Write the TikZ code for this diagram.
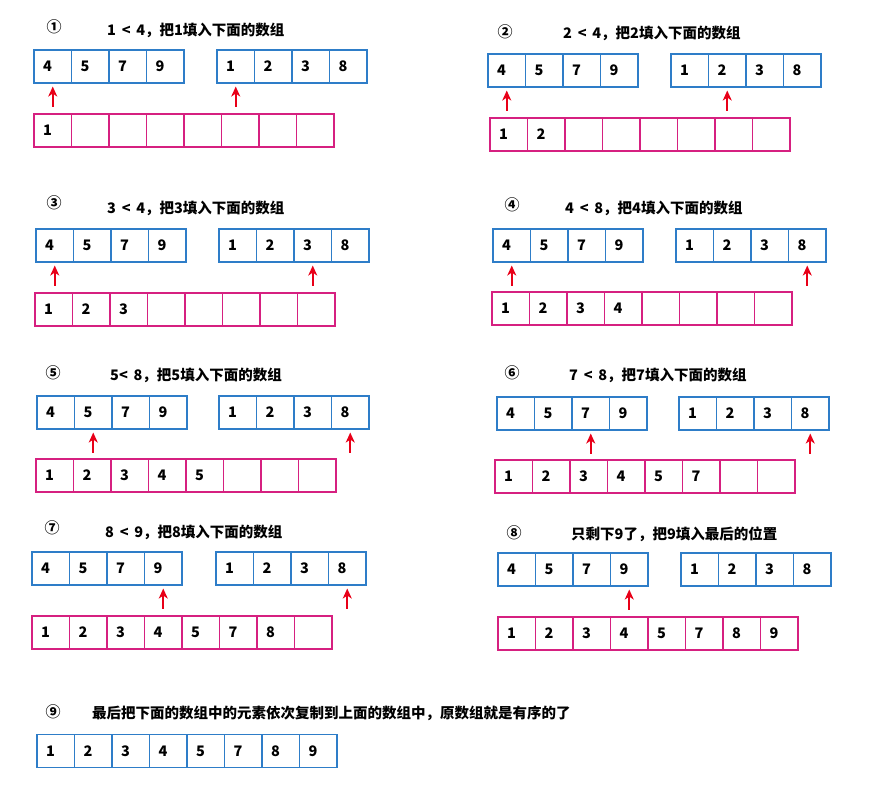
\documentclass[tikz,border=0pt]{standalone}
\usepackage{fontspec}
\usetikzlibrary{arrows.meta}
\newfontfamily\cjk{Noto Sans CJK SC}
\definecolor{arrblue}{RGB}{46,125,200}
\definecolor{arrpink}{RGB}{214,32,128}
\definecolor{ptrred}{RGB}{232,0,24}
\tikzset{
    cell/.style={rectangle,draw,line width=1.1pt,minimum height=33pt,text width=19.5pt,inner xsep=9pt,inner ysep=0pt,align=left,font=\cjk\bfseries\fontsize{14.5}{16}\selectfont},
    topcell/.style={cell,draw=arrblue},
    botcell/.style={cell,draw=arrpink},
    pointer/.style={-{Stealth[length=10pt,width=9pt,inset=3pt]},draw=ptrred,line width=1.8pt,shorten >=3pt},
    heading/.style={anchor=west,inner sep=0pt,font=\cjk\bfseries\fontsize{14.5}{16}\selectfont},
    stepno/.style={inner sep=0pt,font=\cjk\bfseries\fontsize{15}{16}\selectfont}
}

\begin{document}
\begin{tikzpicture}[x=1pt,y=-1pt]
            \useasboundingbox (0,0) rectangle (885,799);

            \foreach \p/\c/\cx/\cy/\tx/\ty/\title/\lx/\ly/\rx/\ry/\bx/\by/\n/\la/\ra in {
                1/①/54/27/107/30/{1 \,<\, 4，把1填入下面的数组}/34/50/217/50/34/114/1/1/1,
                2/②/505/32/563/33/{2 \,<\, 4，把2填入下面的数组}/488/54/671/54/490/118/2/1/2,
                3/③/54/203/107/208/{3 \,<\, 4，把3填入下面的数组}/36/229/219/229/35/293/3/1/3,
                4/④/512/205/565/208/{4 \,<\, 8，把4填入下面的数组}/493/229/676/229/492/292/4/1/4,
                5/⑤/53/373/110/375/{5< \,8，把5填入下面的数组}/37/396/219/396/36/459/5/2/4,
                6/⑥/512/373/569/375/{7 \,<\, 8，把7填入下面的数组}/497/397/679/397/495/460/6/3/4,
                7/⑦/52/528/105/532/{8 \,<\, 9，把8填入下面的数组}/32/552/216/552/32/616/7/4/4,
                8/⑧/514/533/571/534/{只剩下9了，把9填入最后的位置}/498/553/681/553/498/617/8/4/0}{
                \node[stepno] (s\p) at (\cx,\cy) {\c};
                \node[heading] (h\p) at (\tx,\ty) {\title};

                \foreach \v [count=\i] in {4,5,7,9}
                    \node[topcell] (L\p-\i) at (\lx+37.5*\i-18.75,\ly+16.5) {\v};
                \foreach \v [count=\i] in {1,2,3,8}
                    \node[topcell] (R\p-\i) at (\rx+37.5*\i-18.75,\ry+16.5) {\v};
                \foreach \v [count=\i] in {1,2,3,4,5,7,8,9}
                    \node[botcell] (B\p-\i) at (\bx+37.5*\i-18.75,\by+16.5) {\ifnum\i>\n\else\v\fi};

                \coordinate (pl\p) at ([yshift=-23pt]L\p-\la.south);
                \draw [pointer](pl\p) -- (L\p-\la);
                \ifnum\ra>0
                    \coordinate (pr\p) at ([yshift=-23pt]R\p-\ra.south);
                    \draw [pointer](pr\p) -- (R\p-\ra);
                \fi
            }

            \node[stepno] (s9) at (53,712) {⑨};
            \node[heading] (h9) at (92,713) {最后把下面的数组中的元素依次复制到上面的数组中，原数组就是有序的了};
            \foreach \v [count=\i] in {1,2,3,4,5,7,8,9}
                \node[topcell] (F-\i) at (37+37.5*\i-18.75,751) {\v};
        \end{tikzpicture}
\end{document}
